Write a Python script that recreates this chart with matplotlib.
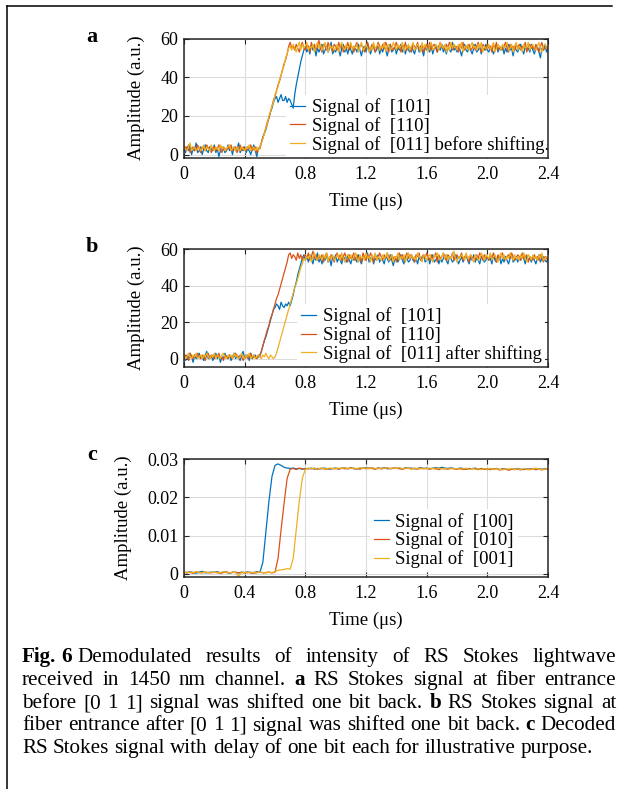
import numpy as np
import matplotlib
matplotlib.use("Agg")
import matplotlib.pyplot as plt
from matplotlib.lines import Line2D

plt.rcParams["font.family"] = ["Liberation Serif", "DejaVu Serif"]

W, H = 618, 789
BLUE, RED, YELLOW = "#0072BD", "#D95319", "#EDB120"

# ---- data ----
dt_ab = 0.01  # us per sample, panels a and b

# panel a: before shifting
a_101 = [
    3, 1, 4, 2, 5, 0, 3, 2, 6, 1,
    2, 4, 0, 3, 5, 2, 1, 4, 3, 2,
    5, 1, 3, -1, 2, 4, 3, 1, 2, 5,
    2, 3, 0, 4, 2, 3, 6, 1, 3, 2,
    4, 1, 3, 2, 0, 3, 5, 2, -1, 3,
    4, 6, 9, 11, 13, 16, 19, 22, 24, 27,
    29, 30, 27, 29, 31, 28, 28, 30, 27, 29,
    28, 26, 24, 31, 36, 40, 44, 48, 51, 54,
    56, 53, 55, 52, 57, 54, 56, 51, 55, 53,
    55, 57, 52, 54, 56, 53, 55, 58, 52, 54,
    53, 56, 54, 51, 55, 57, 53, 55, 52, 56,
    54, 52, 56, 55, 53, 57, 54, 51, 55, 56,
    53, 58, 54, 52, 55, 56, 53, 54, 57, 52,
    55, 53, 56, 54, 51, 55, 57, 53, 54, 56,
    52, 55, 54, 57, 53, 55, 52, 56, 54, 53,
    56, 54, 52, 55, 57, 53, 55, 54, 51, 56,
    54, 55, 53, 57, 52, 55, 56, 53, 55, 54,
    57, 53, 55, 52, 56, 54, 53, 58, 54, 55,
    53, 56, 54, 51, 55, 57, 54, 53, 56, 54,
    52, 55, 57, 53, 54, 56, 52, 55, 54, 57,
    54, 53, 56, 55, 52, 54, 57, 53, 55, 54,
    56, 52, 55, 53, 57, 54, 55, 51, 56, 54,
    53, 55, 57, 54, 52, 56, 54, 55, 53, 57,
    54, 52, 55, 56, 53, 50, 55, 54, 57, 53,
    55,
]
a_110 = [
    2, 4, 3, 5, 1, 3, 4, 2, 3, 5,
    3, 1, 4, 3, 2, 5, 3, 4, 1, 3,
    4, 2, 3, 5, 3, 1, 4, 3, 2, 4,
    3, 5, 2, 3, 4, 1, 3, 5, 2, 4,
    3, 2, 4, 3, 5, 2, 3, 4, 1, 3,
    3, 6, 9, 11, 14, 17, 19, 22, 25, 28,
    30, 33, 36, 38, 41, 44, 47, 49, 52, 56,
    58, 55, 56, 54, 57, 55, 53, 56, 58, 55,
    54, 57, 56, 53, 58, 55, 57, 54, 56, 59,
    55, 53, 57, 56, 54, 58, 55, 56, 53, 57,
    56, 54, 58, 55, 57, 53, 56, 55, 58, 54,
    57, 55, 53, 56, 58, 54, 56, 57, 55, 53,
    56, 58, 55, 54, 57, 56, 53, 55, 58, 56,
    54, 57, 55, 58, 56, 53, 57, 55, 54, 56,
    58, 55, 56, 53, 57, 55, 58, 54, 56, 55,
    53, 57, 56, 55, 58, 54, 56, 57, 53, 55,
    57, 55, 58, 54, 56, 57, 55, 53, 56, 58,
    55, 56, 54, 57, 55, 58, 56, 54, 57, 55,
    56, 53, 57, 55, 58, 54, 56, 55, 57, 54,
    55, 57, 54, 56, 58, 55, 53, 57, 56, 54,
    57, 55, 56, 53, 57, 55, 58, 54, 56, 55,
    54, 56, 58, 55, 53, 57, 55, 56, 54, 57,
    55, 57, 54, 56, 55, 58, 53, 56, 57, 55,
    56, 54, 57, 55, 53, 56, 58, 54, 55, 56,
    54,
]
a_011 = [
    4, 3, 2, 4, 6, 2, 3, 4, 2, 3,
    4, 2, 3, 5, 2, 4, 3, 2, 5, 3,
    2, 4, 3, 2, 5, 3, 4, 2, 3, 4,
    5, 2, 3, 4, 2, 4, 3, 2, 4, 3,
    2, 4, 3, 5, 2, 3, 4, 2, 4, 2,
    4, 6, 8, 11, 14, 16, 20, 22, 25, 27,
    31, 33, 35, 39, 41, 44, 46, 50, 52, 55,
    56, 54, 57, 55, 53, 56, 58, 54, 57, 55,
    56, 58, 54, 56, 55, 57, 53, 56, 58, 55,
    57, 54, 56, 58, 55, 53, 57, 55, 56, 54,
    55, 57, 53, 56, 58, 55, 54, 57, 55, 56,
    58, 54, 56, 55, 57, 53, 56, 58, 54, 55,
    57, 55, 53, 56, 54, 58, 55, 56, 57, 54,
    56, 55, 58, 53, 56, 57, 54, 55, 58, 56,
    54, 57, 55, 56, 58, 53, 56, 55, 57, 54,
    56, 58, 54, 55, 57, 56, 53, 58, 55, 57,
    55, 53, 56, 58, 54, 55, 57, 56, 54, 58,
    56, 55, 57, 53, 56, 54, 58, 55, 57, 56,
    54, 57, 55, 58, 53, 56, 55, 57, 54, 56,
    58, 55, 56, 54, 57, 55, 58, 53, 56, 55,
    55, 57, 54, 56, 58, 53, 55, 57, 56, 54,
    57, 55, 56, 58, 54, 55, 57, 53, 56, 58,
    54, 56, 55, 53, 57, 55, 56, 58, 54, 56,
    57, 55, 54, 56, 58, 55, 53, 56, 57, 55,
    56,
]

# panel b: after shifting
b_101 = [
    1, -1, 2, 0, 3, 1, -2, 2, 0, 1,
    3, 0, 1, -1, 2, 4, 0, 1, 2, -1,
    1, 3, 0, 2, -2, 1, 0, 3, 1, 0,
    2, -1, 1, 3, 0, 2, 1, -1, 2, 4,
    0, 1, 2, -1, 3, 0, 1, 2, 0, 1,
    2, 4, 7, 10, 12, 15, 18, 21, 24, 27,
    28, 30, 29, 27, 31, 29, 28, 30, 29, 31,
    29, 32, 35, 39, 42, 46, 49, 52, 55, 57,
    54, 56, 53, 57, 55, 52, 56, 54, 58, 53,
    55, 52, 56, 54, 57, 53, 55, 51, 56, 54,
    57, 53, 55, 54, 52, 56, 55, 53, 57, 54,
    52, 56, 54, 55, 53, 57, 54, 52, 56, 55,
    54, 58, 53, 55, 56, 52, 55, 54, 57, 53,
    55, 54, 52, 56, 55, 53, 57, 54, 51, 55,
    56, 53, 55, 57, 54, 52, 56, 55, 53, 54,
    57, 54, 53, 55, 52, 56, 54, 55, 57, 53,
    54, 56, 52, 55, 57, 53, 54, 56, 52, 55,
    53, 55, 57, 54, 52, 56, 55, 53, 54, 57,
    55, 52, 54, 56, 53, 55, 57, 54, 52, 56,
    54, 57, 53, 55, 54, 52, 56, 55, 53, 54,
    56, 54, 55, 52, 57, 54, 53, 55, 56, 52,
    55, 53, 56, 54, 52, 55, 57, 53, 54, 56,
    53, 55, 54, 57, 55, 52, 56, 54, 55, 53,
    56, 54, 52, 55, 57, 53, 55, 56, 54, 53,
    55,
]
b_110 = [
    0, 2, 1, -1, 3, 1, 0, 2, 1, 3,
    1, 0, 2, 1, -1, 2, 3, 0, 1, 2,
    0, 2, 1, 3, 0, 1, -1, 2, 1, 0,
    2, 1, 0, 2, 3, 1, 0, 2, 1, -1,
    1, 2, 0, 1, 3, 0, 2, 1, 0, 2,
    1, 4, 7, 10, 13, 16, 18, 22, 24, 27,
    30, 33, 35, 38, 41, 44, 47, 50, 53, 57,
    58, 55, 57, 56, 54, 58, 55, 57, 54, 56,
    57, 55, 58, 54, 56, 59, 55, 57, 54, 56,
    55, 57, 53, 56, 58, 55, 54, 57, 56, 53,
    56, 58, 55, 57, 54, 56, 58, 55, 53, 57,
    55, 56, 58, 54, 57, 55, 56, 53, 58, 56,
    54, 57, 55, 58, 56, 53, 57, 56, 55, 58,
    56, 54, 57, 55, 58, 56, 54, 57, 55, 56,
    53, 56, 58, 55, 57, 54, 56, 58, 55, 57,
    56, 55, 53, 57, 56, 58, 54, 56, 57, 55,
    58, 56, 54, 57, 55, 56, 58, 53, 57, 55,
    56, 58, 55, 54, 57, 56, 55, 58, 54, 56,
    57, 55, 56, 58, 54, 56, 57, 55, 53, 57,
    55, 56, 54, 57, 55, 58, 56, 54, 57, 55,
    56, 54, 57, 55, 58, 56, 53, 57, 55, 56,
    58, 55, 54, 56, 57, 55, 58, 56, 54, 55,
    57, 56, 54, 58, 55, 56, 57, 53, 56, 55,
    54, 57, 55, 56, 54, 57, 55, 53, 56, 55,
    54,
]
b_011 = [
    2, 0, 1, 3, 1, 0, 2, 1, 3, 0,
    1, 2, 0, 2, 1, 3, 1, 0, 2, 1,
    3, 0, 2, 1, 0, 2, 3, 1, 0, 2,
    1, 2, 0, 3, 1, 2, 0, 1, 3, 1,
    0, 2, 1, 3, 0, 1, 2, 0, 1, 2,
    1, 0, 2, 1, 3, 1, 0, 2, 1, 0,
    1, 3, 6, 9, 12, 15, 18, 21, 24, 27,
    30, 33, 36, 39, 41, 44, 47, 50, 52, 55,
    54, 56, 55, 57, 53, 56, 58, 55, 54, 57,
    56, 54, 57, 55, 58, 53, 56, 55, 57, 54,
    55, 57, 56, 54, 58, 55, 53, 56, 57, 55,
    57, 54, 56, 58, 55, 53, 57, 55, 56, 54,
    58, 55, 56, 53, 57, 55, 58, 54, 56, 55,
    54, 57, 55, 56, 58, 54, 55, 57, 53, 56,
    55, 58, 54, 56, 55, 57, 53, 56, 58, 55,
    57, 55, 56, 54, 58, 56, 55, 53, 57, 56,
    54, 56, 57, 55, 53, 57, 56, 58, 55, 54,
    56, 58, 55, 57, 54, 56, 55, 57, 59, 55,
    53, 56, 55, 57, 56, 54, 58, 55, 56, 57,
    55, 53, 57, 56, 54, 55, 58, 56, 54, 57,
    56, 55, 58, 54, 56, 57, 55, 53, 56, 58,
    55, 57, 54, 56, 55, 58, 56, 54, 57, 55,
    56, 54, 57, 55, 58, 55, 53, 57, 56, 54,
    57, 55, 56, 54, 57, 55, 58, 54, 55, 56,
    55,
]

# panel c: decoded, values in units of 1e-4 a.u.
dt_c = 0.02
c_unit = 1e-4
c_100 = [
    4, 2, 5, 3, 1, 4, 6, 2, 3, 4,
    3, 5, 2, 4, 3, 1, 4, 3, 2, 4,
    3, 4, 2, 3, 5, 3, 30, 110, 190, 255,
    284, 288, 284, 279, 277, 276, 277, 275, 276, 274,
    276, 275, 277, 274, 276, 275, 277, 276, 274, 276,
    277, 275, 276, 278, 275, 277, 276, 274, 277, 276,
    278, 276, 277, 275, 277, 276, 278, 275, 276, 277,
    276, 277, 275, 278, 276, 277, 275, 276, 278, 276,
    277, 275, 276, 278, 277, 279, 277, 276, 278, 276,
    275, 277, 276, 274, 276, 275, 277, 274, 276, 275,
    273, 275, 274, 276, 273, 275, 274, 273, 275, 274,
    276, 274, 273, 275, 274, 276, 273, 275, 274, 276,
    274,
]
c_010 = [
    2, 4, 3, 1, 5, 3, 2, 4, 3, 2,
    4, 3, 1, 3, 5, 2, 3, 4, 2, 3,
    2, 4, 3, 1, 3, 4, 2, 3, 4, 2,
    4, 40, 115, 185, 250, 274, 276, 273, 277, 275,
    274, 276, 275, 277, 273, 276, 275, 274, 276, 275,
    276, 274, 277, 275, 276, 278, 275, 276, 274, 277,
    275, 277, 276, 274, 277, 275, 276, 278, 275, 276,
    277, 275, 274, 276, 277, 275, 276, 274, 277, 275,
    276, 274, 277, 275, 273, 276, 275, 274, 276, 275,
    274, 276, 273, 275, 274, 276, 275, 273, 275, 274,
    275, 273, 274, 276, 272, 274, 275, 271, 274, 273,
    274, 272, 275, 273, 274, 276, 273, 274, 272, 275,
    273,
]
c_001 = [
    3, 2, 4, 3, 5, 2, 3, 4, 2, 3,
    4, 2, 3, 5, 3, 2, 4, 3, -8, 4,
    3, 2, 4, 3, 2, 4, 3, 2, 4, 3,
    5, 9, 10, 11, 13, 12, 40, 115, 190, 250,
    274, 277, 275, 276, 274, 277, 276, 275, 277, 276,
    275, 277, 276, 278, 275, 276, 277, 275, 278, 276,
    277, 275, 278, 276, 275, 277, 276, 278, 275, 277,
    276, 278, 275, 277, 276, 274, 277, 276, 275, 277,
    275, 277, 276, 274, 277, 275, 276, 274, 277, 275,
    276, 274, 275, 277, 273, 276, 274, 275, 273, 276,
    274, 276, 273, 275, 274, 272, 275, 274, 276, 273,
    275, 273, 276, 274, 272, 275, 277, 274, 273, 275,
    274,
]

time_ticks = [0, 0.4, 0.8, 1.2, 1.6, 2.0, 2.4]
time_labels = ["0", "0.4", "0.8", "1.2", "1.6", "2.0", "2.4"]
ab_ticks = [0, 20, 40, 60]
c_ticks = [0, 0.01, 0.02, 0.03]
c_tick_labels = ["0", "0.01", "0.02", "0.03"]

caption = [
    "Fig.~6~Demodulated results of intensity of RS Stokes lightwave",
    "received in 1450 nm channel. a RS Stokes signal at fiber entrance",
    "before [0 1 1] signal was shifted one bit back. b RS Stokes signal at",
    "fiber entrance after [0 1 1] signal was shifted one bit back. c Decoded",
    "RS Stokes signal with delay of one bit each for illustrative purpose.",
]
caption_bold = {"Fig.", "6", "a", "b", "c"}

FS = 13.5


def px_box(x0, y0, x1, y1):
    return [x0 / W, 1 - y1 / H, (x1 - x0) / W, (y1 - y0) / H]


def style_axes(ax, ylim, yticks, ylabels=None):
    ax.set_xlim(0, 2.4)
    ax.set_ylim(*ylim)
    ax.set_xticks(time_ticks, time_labels)
    ax.set_yticks(yticks, ylabels if ylabels else [str(v) for v in yticks])
    ax.grid(True, color="#dcdcdc", lw=0.8)
    ax.set_axisbelow(True)
    ax.tick_params(direction="in", top=True, right=True, length=3.5,
                   width=0.8, labelsize=FS - 0.5, color="#262626")
    ax.tick_params(axis="x", pad=6)
    ax.tick_params(axis="y", pad=4)
    for sp in ax.spines.values():
        sp.set_linewidth(1.1)
        sp.set_color("#262626")
    ax.set_xlabel("Time (μs)", fontsize=FS, labelpad=7)
    ax.set_ylabel("Amplitude (a.u.)", fontsize=FS, labelpad=11)


def add_legend(ax, anchor):
    leg = ax.legend(loc="lower left", bbox_to_anchor=anchor, borderaxespad=0,
                    frameon=True, fancybox=False, edgecolor="none",
                    facecolor="white", framealpha=1, fontsize=FS,
                    handlelength=0.8, handletextpad=0.35, labelspacing=0.05,
                    borderpad=0.2)
    # white box hides the grid but stays under the traces and the frame
    leg.set_zorder(1.5)


fig = plt.figure(figsize=(W / 100, H / 100), dpi=100)

t_ab = np.arange(len(a_101)) * dt_ab
t_c = np.arange(len(c_100)) * dt_c
LW = 0.9

# panel a
ax = fig.add_axes(px_box(184, 38.5, 548, 157.5))
ax.plot(t_ab, a_101, color=BLUE, lw=LW, label="Signal of  [101]")
ax.plot(t_ab, a_110, color=RED, lw=LW, label="Signal of  [110]")
ax.plot(t_ab, a_011, color=YELLOW, lw=LW,
        label="Signal of  [011] before shifting.")
style_axes(ax, (-1.5, 60), ab_ticks)
add_legend(ax, (0.281, 0.0))

# panel b
ax = fig.add_axes(px_box(184, 249.3, 548, 366.7))
ax.plot(t_ab, b_101, color=BLUE, lw=LW, label="Signal of  [101]")
ax.plot(t_ab, b_110, color=RED, lw=LW, label="Signal of  [110]")
ax.plot(t_ab, b_011, color=YELLOW, lw=LW,
        label="Signal of  [011] after shifting")
style_axes(ax, (-4.4, 60), ab_ticks)
add_legend(ax, (0.311, 0.0))

# panel c
ax = fig.add_axes(px_box(184, 459.3, 548, 576.7))
ax.plot(t_c, np.array(c_100) * c_unit, color=BLUE, lw=LW,
        label="Signal of  [100]")
ax.plot(t_c, np.array(c_010) * c_unit, color=RED, lw=LW,
        label="Signal of  [010]")
ax.plot(t_c, np.array(c_001) * c_unit, color=YELLOW, lw=LW,
        label="Signal of  [001]")
style_axes(ax, (-0.0008, 0.03), c_ticks, c_tick_labels)
add_legend(ax, (0.511, 0.04))

# panel letters
for letter, y in [("a", 42), ("b", 252), ("c", 460)]:
    fig.text(92 / W, 1 - y / H, letter, fontsize=16, fontweight="bold",
             ha="center", va="baseline")

# caption, justified like the journal text
renderer = fig.canvas.get_renderer()
CAP_FS = 15.2
cap_left, cap_right = 22, 616
cap_base = [662, 685, 708, 730.5, 753]


def text_w(s, bold):
    t = fig.text(0, 0, s, fontsize=CAP_FS,
                 fontweight="bold" if bold else "normal")
    w = t.get_window_extent(renderer).width
    t.remove()
    return w


space_w = text_w("x x", False) - text_w("xx", False)

for i, line in enumerate(caption):
    words = line.split(" ")
    runs = [w.split("~") for w in words]
    widths = []
    for r in runs:
        ws = [text_w(p, p in caption_bold) for p in r]
        widths.append(sum(ws) + space_w * (len(r) - 1))
    if i == len(caption) - 1:
        gap = space_w
    else:
        gap = (cap_right - cap_left - sum(widths)) / (len(words) - 1)
    x = cap_left
    y = 1 - cap_base[i] / H
    for r, wtot in zip(runs, widths):
        xr = x
        for p in r:
            bold = p in caption_bold
            fig.text(xr / W, y, p, fontsize=CAP_FS, va="baseline",
                     fontweight="bold" if bold else "normal")
            xr += text_w(p, bold) + space_w
        x += wtot + gap

# frame lines of the figure box
fig.add_artist(Line2D([6.5 / W, 612 / W], [1 - 5.5 / H, 1 - 5.5 / H],
                      color="black", lw=1.1))
fig.add_artist(Line2D([6.5 / W, 6.5 / W], [1 - 5.5 / H, 0],
                      color="black", lw=1.1))

fig.savefig("out.png", dpi=100)
